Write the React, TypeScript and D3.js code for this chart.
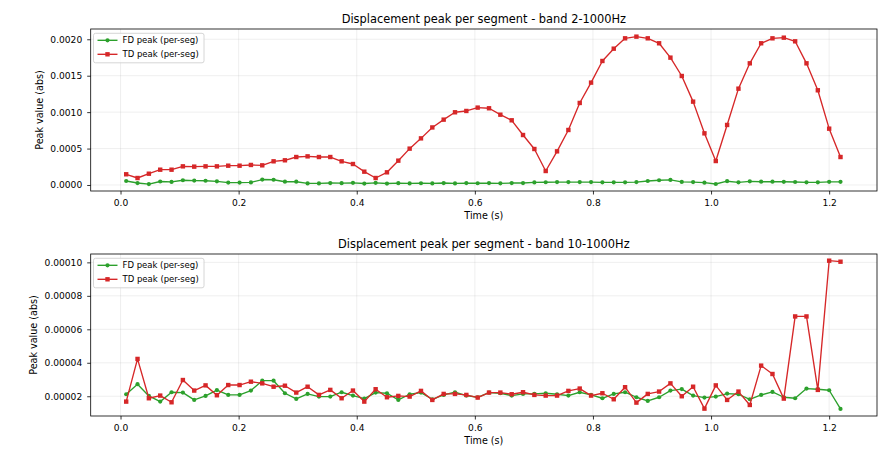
import { useRef, useEffect } from "react";
import * as d3 from "d3";

// segment centre times (s)
const times = [
    0.0096, 0.0288, 0.048, 0.0672, 0.0864, 0.1056, 0.1248, 0.144, 0.1632, 0.1824,
    0.2016, 0.2208, 0.24, 0.2592, 0.2784, 0.2976, 0.3168, 0.336, 0.3552, 0.3744,
    0.3936, 0.4128, 0.432, 0.4512, 0.4704, 0.4896, 0.5088, 0.528, 0.5472, 0.5664,
    0.5856, 0.6048, 0.624, 0.6432, 0.6624, 0.6816, 0.7008, 0.72, 0.7392, 0.7584,
    0.7776, 0.7968, 0.816, 0.8352, 0.8544, 0.8736, 0.8928, 0.912, 0.9312, 0.9504,
    0.9696, 0.9888, 1.008, 1.0272, 1.0464, 1.0656, 1.0848, 1.104, 1.1232, 1.1424,
    1.1616, 1.1808, 1.2, 1.2192,
];

// band 2-1000Hz
const fdBand1 = [
    0.000055, 0.000027, 0.000012, 0.000048, 0.000042, 0.000065, 0.00006, 0.000058, 0.00005, 0.000033,
    0.000033, 0.000035, 0.000075, 0.000072, 0.000045, 0.000045, 0.000022, 0.000022, 0.000027, 0.000025,
    0.00003, 0.00002, 0.00003, 0.00002, 0.000025, 0.000022, 0.000024, 0.000022, 0.000027, 0.000022,
    0.000026, 0.000024, 0.000026, 0.000023, 0.000027, 0.000027, 0.000035, 0.000038, 0.00004, 0.00004,
    0.00004, 0.00004, 0.000036, 0.000036, 0.000036, 0.00004, 0.000055, 0.000065, 0.00007, 0.000042,
    0.00004, 0.000032, 0.000014, 0.000052, 0.000037, 0.00005, 0.000045, 0.000045, 0.000044, 0.000041,
    0.000037, 0.000037, 0.000043, 0.000043,
];
const tdBand1 = [
    0.000147, 0.000096, 0.000155, 0.00021, 0.00021, 0.000256, 0.000252, 0.000256, 0.000256, 0.000265,
    0.000265, 0.000275, 0.00027, 0.000325, 0.000339, 0.000384, 0.000393, 0.000384, 0.000384, 0.000325,
    0.000288, 0.000183, 0.000096, 0.000174, 0.000334, 0.000499, 0.00064, 0.00079, 0.000897, 0.000998,
    0.001016, 0.001062, 0.001053, 0.000965, 0.000888, 0.000686, 0.000494, 0.000192, 0.000462, 0.000755,
    0.001126, 0.001405, 0.001702, 0.001871, 0.002013, 0.002036, 0.002013, 0.001945, 0.001748, 0.001496,
    0.001144, 0.000709, 0.000329, 0.000824, 0.001322, 0.00167, 0.001945, 0.002013, 0.002022, 0.001972,
    0.00167, 0.0013, 0.000773, 0.000384,
];

// band 10-1000Hz (units of 1e-5)
const fdBand2 = [
    2.12, 2.72, 2.02, 1.68, 2.24, 2.22, 1.78, 2.02, 2.37, 2.08,
    2.08, 2.34, 2.93, 2.93, 2.18, 1.84, 2.14, 1.98, 1.98, 2.24,
    2.04, 1.86, 2.22, 2.18, 1.78, 2.12, 2.22, 1.82, 2.08, 2.24,
    2.04, 1.94, 2.22, 2.18, 2.04, 2.14, 2.14, 2.18, 2.12, 2.04,
    2.24, 2.08, 1.88, 2.14, 2.24, 1.94, 1.72, 1.94, 2.34, 2.43,
    2.04, 1.92, 1.98, 2.16, 2.12, 1.82, 2.08, 2.26, 1.94, 1.88,
    2.46, 2.42, 2.36, 1.24,
].map(v => v * 1e-5);
const tdBand2 = [
    1.68, 4.23, 1.88, 2.04, 1.64, 2.97, 2.34, 2.65, 2.06, 2.67,
    2.67, 2.87, 2.77, 2.57, 2.63, 2.22, 2.57, 2.08, 2.38, 1.88,
    2.34, 1.68, 2.42, 1.94, 2.02, 1.98, 2.32, 1.78, 2.14, 2.14,
    2.08, 1.92, 2.22, 2.22, 2.12, 2.24, 2.08, 2.04, 2.04, 2.32,
    2.46, 2.04, 2.18, 1.82, 2.54, 1.62, 2.14, 2.28, 2.77, 2.0,
    2.57, 1.26, 2.65, 1.78, 2.28, 1.48, 3.83, 3.33, 1.86, 6.77,
    6.77, 2.38, 10.1, 10.04,
].map(v => v * 1e-5);

const xTicks = [0, 0.2, 0.4, 0.6, 0.8, 1.0, 1.2];
const yTicks1 = [0, 0.0005, 0.001, 0.0015, 0.002];
const yTicks2 = [0.00002, 0.00004, 0.00006, 0.00008, 0.0001];

const GREEN = "#2ca02c";
const RED = "#d62728";
const FONT = "DejaVu Sans";

interface PanelSpec {
    title: string;
    fd: number[];
    td: number[];
    yDomain: [number, number];
    yTicks: number[];
    yDecimals: number;
    top: number;
    bottom: number;
    yLabelX: number;
}

const panels: PanelSpec[] = [
    {
        title: "Displacement peak per segment - band 2-1000Hz",
        fd: fdBand1, td: tdBand1,
        yDomain: [-0.0000824, 0.002141], yTicks: yTicks1, yDecimals: 4,
        top: 29, bottom: 191, yLabelX: 40,
    },
    {
        title: "Displacement peak per segment - band 10-1000Hz",
        fd: fdBand2, td: tdBand2,
        yDomain: [0.0000082, 0.000105], yTicks: yTicks2, yDecimals: 5,
        top: 254, bottom: 416, yLabelX: 34,
    },
];

export default function App() {
    const svgRef = useRef<SVGSVGElement | null>(null);

    useEffect(() => {
        if (!svgRef.current) return;
        const svg = d3.select(svgRef.current);
        svg.selectAll("*").remove();

        const left = 90.7, right = 877;
        const x = d3.scaleLinear().domain([-0.0505, 1.281]).range([left, right]);

        panels.forEach(p => {
            const y = d3.scaleLinear().domain(p.yDomain).range([p.bottom, p.top]);
            const g = svg.append("g");

            // grid
            g.selectAll(".gx").data(xTicks).enter().append("line")
                .attr("x1", d => x(d)).attr("x2", d => x(d))
                .attr("y1", p.top).attr("y2", p.bottom)
                .attr("stroke", "#b0b0b0").attr("stroke-opacity", 0.3).attr("stroke-width", 0.7);
            g.selectAll(".gy").data(p.yTicks).enter().append("line")
                .attr("x1", left).attr("x2", right)
                .attr("y1", d => y(d)).attr("y2", d => y(d))
                .attr("stroke", "#b0b0b0").attr("stroke-opacity", 0.3).attr("stroke-width", 0.7);

            // x axis
            const xAxis = d3.axisBottom(x).tickValues(xTicks).tickFormat(d3.format(".1f")).tickSize(3.5).tickPadding(4.8);
            const gx = g.append("g").attr("transform", `translate(0,${p.bottom})`).call(xAxis);
            gx.select(".domain").remove();
            gx.selectAll("line").attr("stroke", "#000").attr("stroke-width", 0.8);
            gx.selectAll("text").attr("font-family", FONT).attr("font-size", 9.1).attr("fill", "#000");

            // y axis
            const yAxis = d3.axisLeft(y).tickValues(p.yTicks).tickFormat(d3.format(`.${p.yDecimals}f`)).tickSize(3.5).tickPadding(5);
            const gy = g.append("g").attr("transform", `translate(${left},0)`).call(yAxis);
            gy.select(".domain").remove();
            gy.selectAll("line").attr("stroke", "#000").attr("stroke-width", 0.8);
            gy.selectAll("text").attr("font-family", FONT).attr("font-size", 9.1).attr("fill", "#000");

            // series
            const series = g.append("g");
            const line = (vals: number[]) =>
                d3.line<number>().x((_d, i) => x(times[i])).y(d => y(d))(vals) ?? "";

            series.append("path").attr("d", line(p.fd)).attr("fill", "none")
                .attr("stroke", GREEN).attr("stroke-width", 1.35).attr("stroke-linejoin", "round");
            series.selectAll(".fdm").data(p.fd).enter().append("circle")
                .attr("cx", (_d, i) => x(times[i])).attr("cy", d => y(d)).attr("r", 2.1).attr("fill", GREEN);

            series.append("path").attr("d", line(p.td)).attr("fill", "none")
                .attr("stroke", RED).attr("stroke-width", 1.35).attr("stroke-linejoin", "round");
            const sq = 4.4;
            series.selectAll(".tdm").data(p.td).enter().append("rect")
                .attr("x", (_d, i) => x(times[i]) - sq / 2).attr("y", d => y(d) - sq / 2)
                .attr("width", sq).attr("height", sq).attr("fill", RED);

            // frame
            g.append("rect").attr("x", left).attr("y", p.top)
                .attr("width", right - left).attr("height", p.bottom - p.top)
                .attr("fill", "none").attr("stroke", "#000").attr("stroke-width", 0.8);

            // labels
            g.append("text").attr("x", (left + right) / 2).attr("y", p.top - 5.7)
                .attr("text-anchor", "middle").attr("font-family", FONT).attr("font-size", 11.4)
                .text(p.title);
            g.append("text").attr("x", (left + right) / 2).attr("y", p.bottom + 28.3)
                .attr("text-anchor", "middle").attr("font-family", FONT).attr("font-size", 9.6)
                .text("Time (s)");
            g.append("text")
                .attr("transform", `translate(${p.yLabelX},${(p.top + p.bottom) / 2}) rotate(-90)`)
                .attr("text-anchor", "middle").attr("dominant-baseline", "middle")
                .attr("font-family", FONT).attr("font-size", 9.6)
                .text("Peak value (abs)");

            // legend
            const lg = g.append("g").attr("transform", `translate(${left + 2.8},${p.top + 4.3})`);
            lg.append("rect").attr("width", 110.5).attr("height", 29.5).attr("rx", 2)
                .attr("fill", "#fff").attr("fill-opacity", 0.8)
                .attr("stroke", "#ccc").attr("stroke-width", 0.8);
            const items = [
                { label: "FD peak (per-seg)", color: GREEN, marker: "circle" },
                { label: "TD peak (per-seg)", color: RED, marker: "square" },
            ];
            items.forEach((it, i) => {
                const cy = 7 + i * 14;
                lg.append("line").attr("x1", 4).attr("x2", 24).attr("y1", cy).attr("y2", cy)
                    .attr("stroke", it.color).attr("stroke-width", 1.35);
                if (it.marker === "circle") {
                    lg.append("circle").attr("cx", 14).attr("cy", cy).attr("r", 2.1).attr("fill", it.color);
                } else {
                    lg.append("rect").attr("x", 14 - sq / 2).attr("y", cy - sq / 2)
                        .attr("width", sq).attr("height", sq).attr("fill", it.color);
                }
                lg.append("text").attr("x", 29).attr("y", cy).attr("dominant-baseline", "central")
                    .attr("font-family", FONT).attr("font-size", 8.5).attr("fill", "#000")
                    .text(it.label);
            });
        });
    }, []);

    return (
        <svg ref={svgRef} width={890} height={461}
            style={{ position: "absolute", left: 0, top: 0, background: "#fff" }} />
    );
}
